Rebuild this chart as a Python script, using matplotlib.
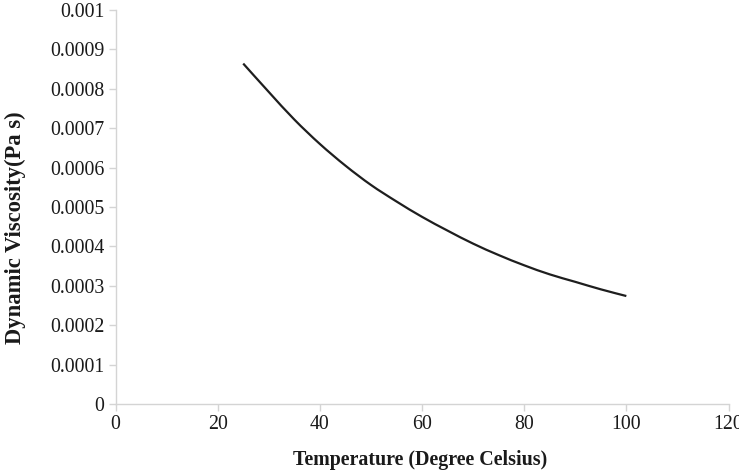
import matplotlib
matplotlib.use("Agg")
import matplotlib.pyplot as plt
from matplotlib.path import Path
from matplotlib.patches import PathPatch

# Dynamic viscosity of water against temperature
temperature_c = [25, 30, 35, 40, 45, 50, 55, 60, 65, 70, 75, 80, 85, 90, 95, 100]
viscosity_pa_s = [0.000864, 0.000792, 0.000722, 0.000660, 0.000605, 0.000556,
                  0.000514, 0.000475, 0.000440, 0.000407, 0.000378, 0.000352,
                  0.000329, 0.000310, 0.000291, 0.000274]

x_ticks = [0, 20, 40, 60, 80, 100, 120]
y_ticks = [0, 0.0001, 0.0002, 0.0003, 0.0004, 0.0005, 0.0006, 0.0007, 0.0008, 0.0009, 0.001]
y_tick_labels = ["0", "0.0001", "0.0002", "0.0003", "0.0004", "0.0005",
                 "0.0006", "0.0007", "0.0008", "0.0009", "0.001"]

plt.rcParams["font.family"] = ["Liberation Serif", "DejaVu Serif"]


def smooth_path(xs, ys, tension=1.0 / 6.0):
    """Cubic Bezier path through the points (Catmull-Rom style smoothing)."""
    n = len(xs)
    verts = [(xs[0], ys[0])]
    codes = [Path.MOVETO]
    for i in range(n - 1):
        x0, y0 = (xs[i - 1], ys[i - 1]) if i > 0 else (xs[i], ys[i])
        x1, y1 = xs[i], ys[i]
        x2, y2 = xs[i + 1], ys[i + 1]
        x3, y3 = (xs[i + 2], ys[i + 2]) if i + 2 < n else (x2, y2)
        c1 = (x1 + (x2 - x0) * tension, y1 + (y2 - y0) * tension)
        c2 = (x2 - (x3 - x1) * tension, y2 - (y3 - y1) * tension)
        verts += [c1, c2, (x2, y2)]
        codes += [Path.CURVE4] * 3
    return Path(verts, codes)


fig = plt.figure(figsize=(7.39, 4.75), dpi=100)
ax = fig.add_axes([0.1563, 0.1495, 0.8295, 0.8295])

curve = PathPatch(smooth_path(temperature_c, viscosity_pa_s), facecolor="none",
                  edgecolor="#1e1e1e", linewidth=1.6, capstyle="butt")
ax.add_patch(curve)

ax.set_xlim(0, 120)
ax.set_ylim(0, 0.001)
ax.set_xticks(x_ticks)
ax.set_xticklabels([str(v) for v in x_ticks])
ax.set_yticks(y_ticks)
ax.set_yticklabels(y_tick_labels)

for side in ("top", "right"):
    ax.spines[side].set_visible(False)
for side in ("left", "bottom"):
    ax.spines[side].set_color("#d4d4d4")
    ax.spines[side].set_linewidth(1.0)

ax.tick_params(axis="both", direction="out", length=5, width=1.0,
               color="#d4d4d4", labelsize=14.3, labelcolor="#1a1a1a", pad=3)

fig.text(420 / 739, 1 - 460 / 475, "Temperature (Degree Celsius)",
         fontsize=14.4, fontweight="bold", color="#1a1a1a",
         ha="center", va="center")
fig.text(15 / 739, 1 - 228 / 475, "Dynamic Viscosity(Pa s)",
         fontsize=16.3, fontweight="bold", color="#1a1a1a",
         ha="center", va="center", rotation=90)

fig.savefig("out.png", dpi=100)
